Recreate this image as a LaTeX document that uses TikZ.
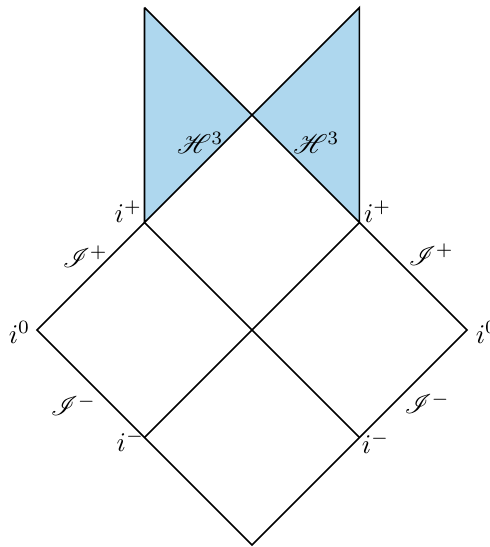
\documentclass[tikz,border=0pt]{standalone}
\usepackage{mathrsfs}
\definecolor{hblue}{RGB}{174,215,238}
\begin{document}
\begin{tikzpicture}[x=1.4cm,y=1.4cm,line width=0.6pt,
  lbl/.style={inner sep=1pt}]
\useasboundingbox (-2.344,-2.019) rectangle (2.214,3.07);
\coordinate (ip1) at (-1,1);
\coordinate (ip2) at (1,1);
\coordinate (i01) at (-2,0);
\coordinate (i02) at (2,0);
\coordinate (im1) at (-1,-1);
\coordinate (im2) at (1,-1);
\coordinate (bot) at (0,-2);
\coordinate (mid) at (0,0);
\coordinate (top) at (0,2);
\coordinate (tl) at (-1,3);
\coordinate (tr) at (1,3);
\fill[hblue] (tl) -- (ip1) -- (top) -- cycle;
\fill[hblue] (tr) -- (ip2) -- (top) -- cycle;
\draw (tl) -- (ip1) -- (tr) -- (ip2) -- (tl);
\draw (ip1) -- (i01) -- (bot) -- (i02) -- (ip2);
\draw (ip1) -- (im2);
\draw (ip2) -- (im1);
\node[lbl] (h1) at (-0.48,1.74) {$\mathscr{H}^3$};
\node[lbl] (h2) at (0.60,1.74) {$\mathscr{H}^3$};
\node[lbl] (lip1) at (-1.15,1.10) {$i^+$};
\node[lbl] (lip2) at (1.17,1.10) {$i^+$};
\node[lbl,anchor=east] (li01) at (-2.03,-0.02) {$i^0$};
\node[lbl,anchor=west] (li02) at (2.05,-0.02) {$i^0$};
\node[lbl] (lim1) at (-1.13,-1.03) {$i^-$};
\node[lbl] (lim2) at (1.15,-1.05) {$i^-$};
\node[lbl] (s1) at (-1.55,0.68) {$\mathscr{I}^+$};
\node[lbl] (s2) at (1.67,0.70) {$\mathscr{I}^+$};
\node[lbl] (s3) at (-1.66,-0.70) {$\mathscr{I}^-$};
\node[lbl] (s4) at (1.63,-0.68) {$\mathscr{I}^-$};
\end{tikzpicture}
\end{document}
